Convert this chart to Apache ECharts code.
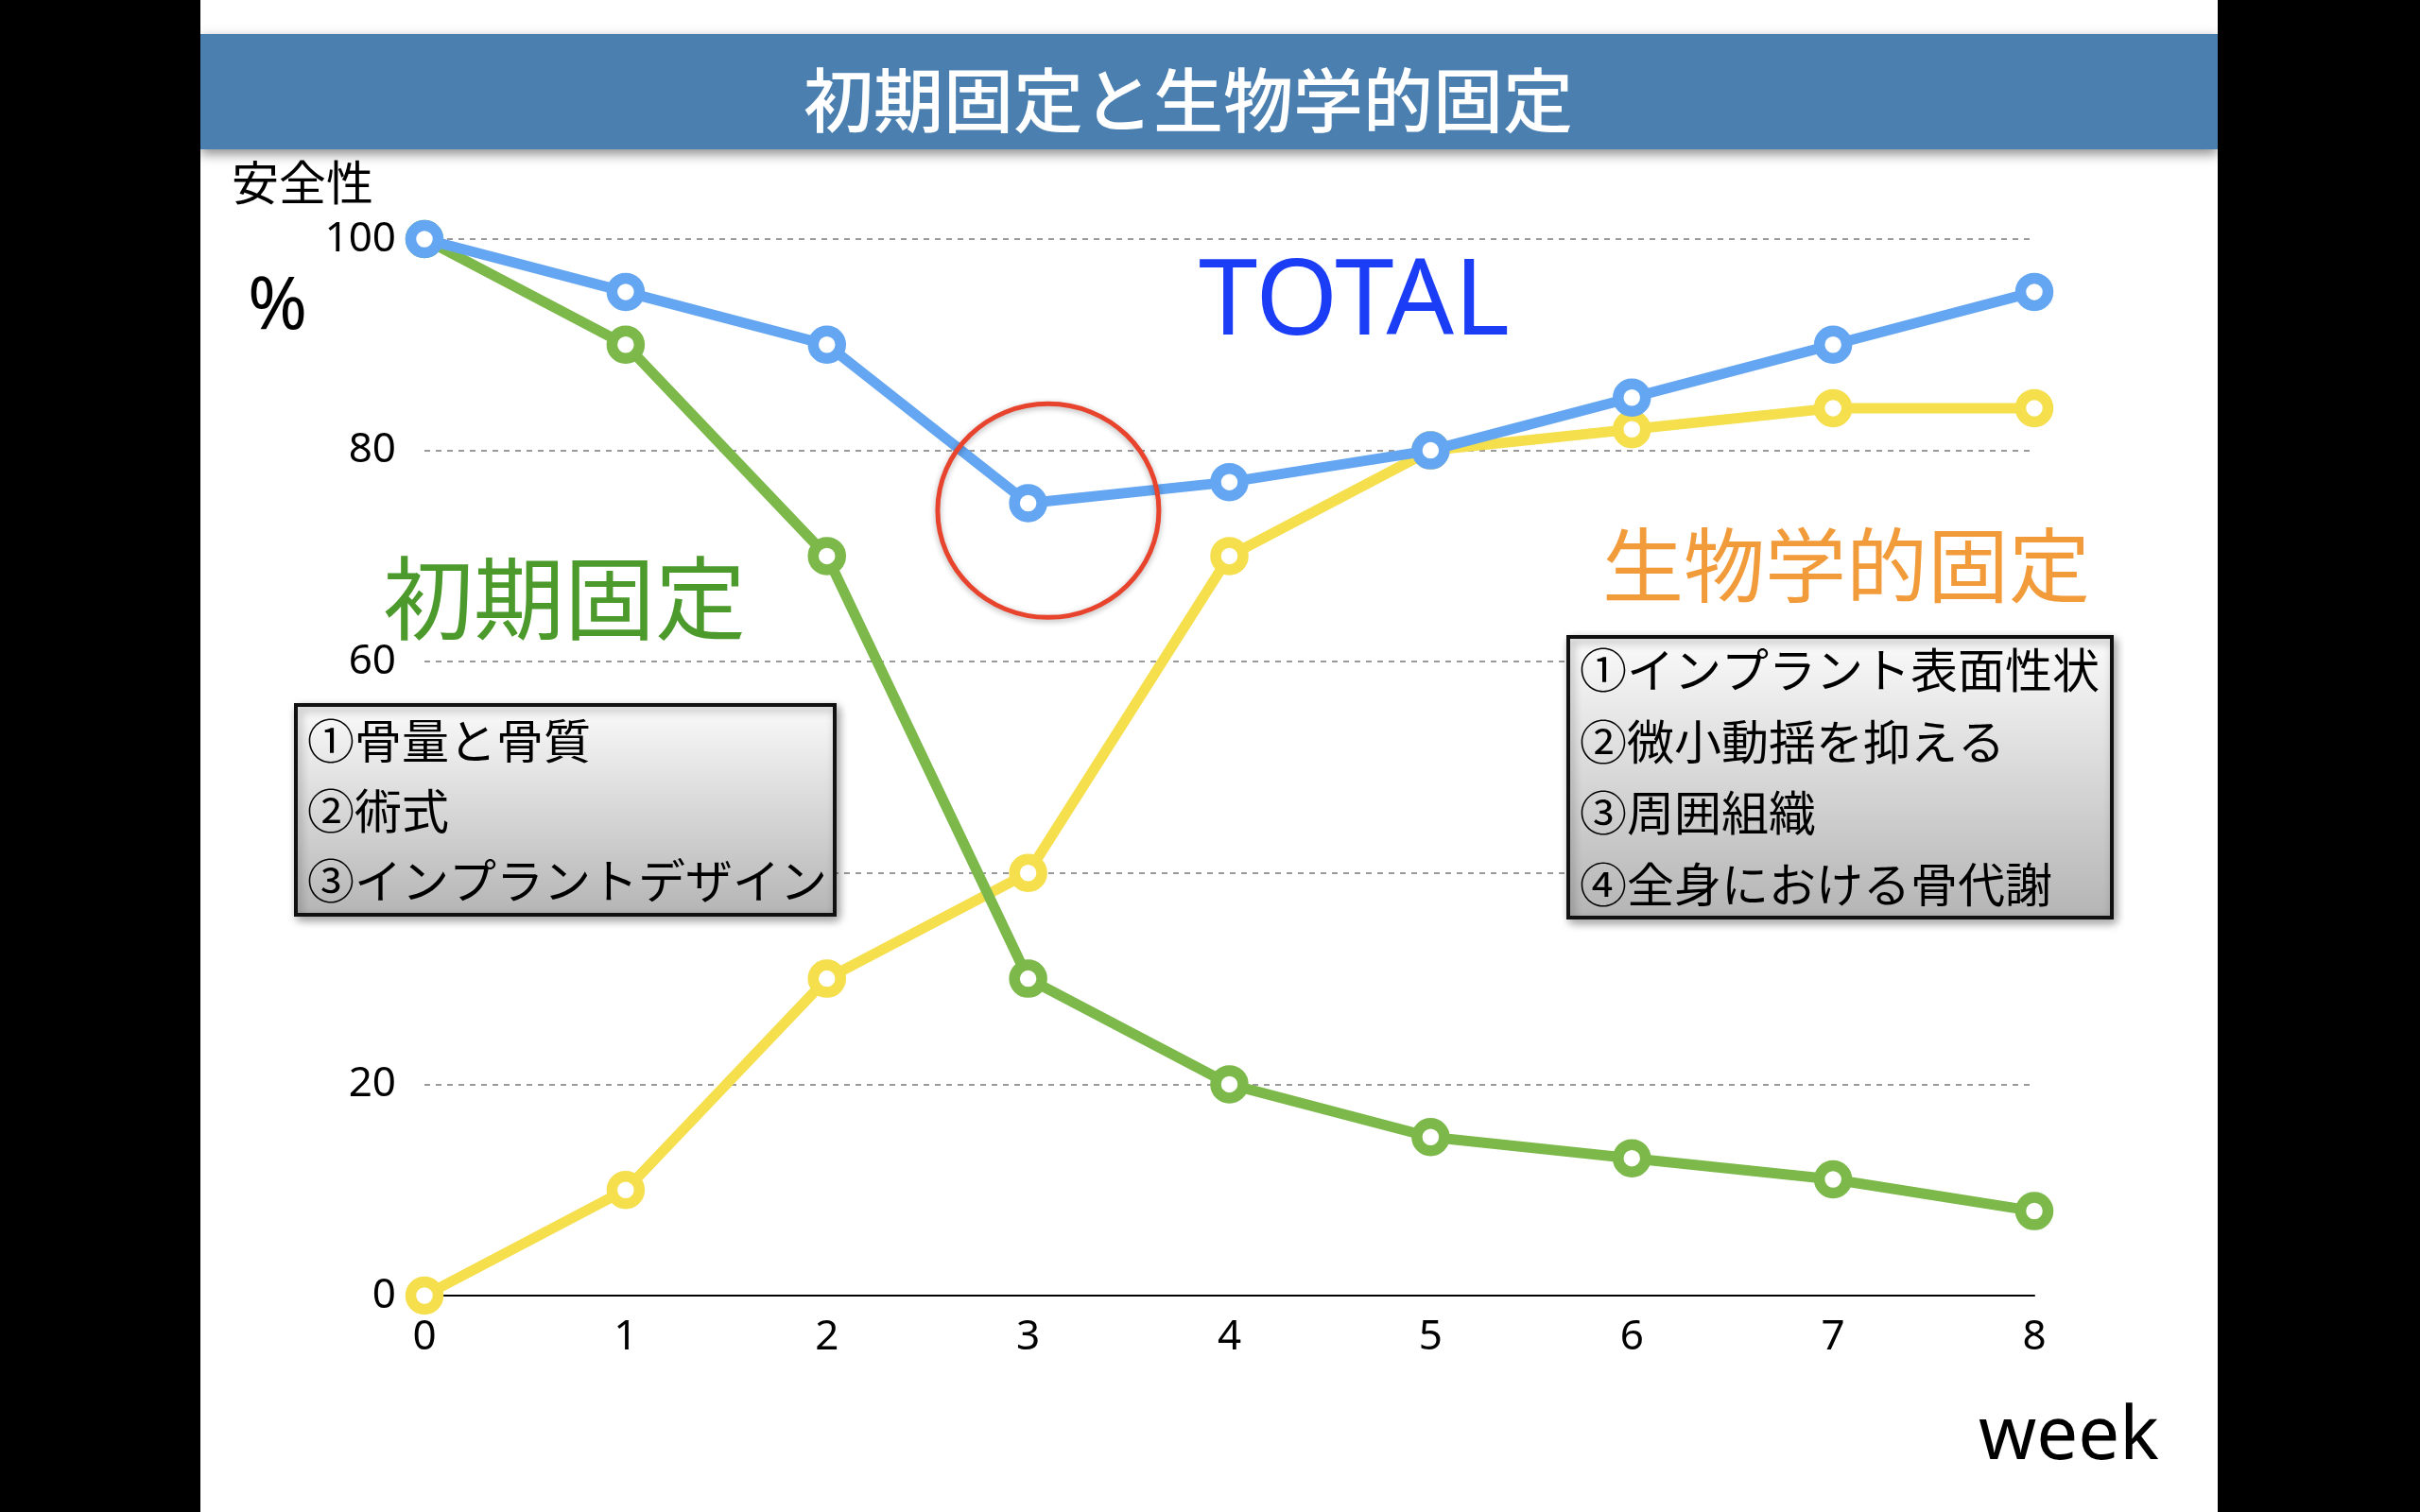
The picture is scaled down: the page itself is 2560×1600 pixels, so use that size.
<!DOCTYPE html>
<html>
<head>
<meta charset="utf-8">
<script src="https://cdn.jsdelivr.net/npm/echarts@6/dist/echarts.min.js"></script>
<style>
  html, body { margin: 0; padding: 0; }
  body { width: 2560px; height: 1600px; background: linear-gradient(to right, #000 0, #000 212px, #fff 212px, #fff 2346px, #000 2346px, #000 100%); }
  #chart { width: 2560px; height: 1600px; }
</style>
</head>
<body>
<div id="chart"></div>
<script>
// ---- data ----
const weeks = [0, 1, 2, 3, 4, 5, 6, 7, 8];
const totalValues = [100, 95, 90, 75, 77, 80, 85, 90, 95];
const primaryValues = [100, 90, 70, 30, 20, 15, 13, 11, 8];
const biologicalValues = [0, 10, 30, 40, 70, 80, 82, 84, 84];
const yTicks = [0, 20, 40, 60, 80, 100];

const titleText = '初期固定と生物学的固定';
const primaryFactors = ['①骨量と骨質', '②術式', '③インプラントデザイン'];
const biologicalFactors = ['①インプラント表面性状', '②微小動揺を抑える', '③周囲組織', '④全身における骨代謝'];

const CJK = '"Noto Sans CJK JP", "Noto Sans", sans-serif';
const LATIN = '"Noto Sans", "DejaVu Sans", sans-serif';

const chart = echarts.init(document.getElementById('chart'), null, { renderer: 'canvas' });

function lineSeries(name, values, color, z) {
  return {
    name: name,
    type: 'line',
    data: weeks.map((w, i) => [w, values[i]]),
    z: z,
    symbol: 'circle',
    symbolSize: 29,
    showAllSymbol: true,
    lineStyle: { color: color, width: 11 },
    itemStyle: { color: '#ffffff', borderColor: color, borderWidth: 11.5 },
    emphasis: { disabled: true },
    animation: false
  };
}

function factorBox(x, y, w, h, lines, lineStart, lineGap) {
  const children = [{
    type: 'rect', z: 100,
    shape: { x: 0, y: 0, width: w, height: h },
    style: {
      fill: new echarts.graphic.LinearGradient(0, 0, 0, 1, [
        { offset: 0, color: '#fbfbfb' },
        { offset: 1, color: '#b4b4b4' }
      ]),
      stroke: '#111', lineWidth: 4,
      shadowBlur: 10, shadowOffsetX: 3, shadowOffsetY: 4, shadowColor: 'rgba(0,0,0,0.35)'
    }
  }];
  lines.forEach((t, i) => {
    children.push({
      type: 'text', z: 101,
      x: 12, y: lineStart + i * lineGap,
      style: { text: t, fill: '#000', font: '50px ' + CJK, textVerticalAlign: 'middle' }
    });
  });
  return { type: 'group', x: x, y: y, z: 100, zlevel: 1, children: children };
}

const option = {
  animation: false,
  backgroundColor: 'transparent',
  grid: { left: 449, right: 408, top: 253, bottom: 229, containLabel: false },
  xAxis: {
    type: 'value',
    min: 0, max: 8, interval: 1,
    axisLine: { show: true, onZero: false, lineStyle: { color: '#000', width: 2 } },
    axisTick: { show: false },
    axisLabel: { color: '#000', fontSize: 44, fontFamily: LATIN, margin: 22 },
    splitLine: { show: false }
  },
  yAxis: {
    type: 'value',
    min: 0, max: 100, interval: 20,
    axisLine: { show: false },
    axisTick: { show: false },
    axisLabel: {
      color: '#000', fontSize: 44, fontFamily: LATIN, margin: 30,
      formatter: v => (yTicks.indexOf(v) >= 0 ? String(v) : '')
    },
    splitLine: { show: true, lineStyle: { color: '#999', width: 2, type: [6, 6] } }
  },
  series: [
    lineSeries('生物学的固定', biologicalValues, '#f5df4d', 3),
    lineSeries('初期固定', primaryValues, '#7cb94a', 4),
    lineSeries('TOTAL', totalValues, '#64a6f1', 5)
  ],
  graphic: [
    // title banner
    {
      type: 'rect', z: 50,
      shape: { x: 212, y: 36, width: 2134, height: 122 },
      style: { fill: '#4a7fb0', shadowBlur: 12, shadowOffsetY: 5, shadowColor: 'rgba(0,0,0,0.45)' }
    },
    {
      type: 'text', z: 51, x: 1257, y: 106,
      style: { text: titleText, fill: '#fff', font: '500 74px ' + CJK, textAlign: 'center', textVerticalAlign: 'middle' }
    },
    // axis captions
    {
      type: 'text', z: 60, x: 245, y: 193,
      style: { text: '安全性', fill: '#000', font: '50px ' + CJK, textVerticalAlign: 'middle' }
    },
    {
      type: 'text', z: 60, x: 262, y: 326,
      style: { text: '%', fill: '#000', font: '76px ' + LATIN, textVerticalAlign: 'middle' }
    },
    {
      type: 'text', z: 60, x: 2093, y: 1522,
      style: { text: 'week', fill: '#000', font: '78px ' + LATIN, textVerticalAlign: 'middle' }
    },
    // series captions
    {
      type: 'text', z: 60, x: 1268, y: 322,
      style: { text: 'TOTAL', fill: '#1c3df6', font: '112px ' + LATIN, textVerticalAlign: 'middle' }
    },
    {
      type: 'text', z: 60, x: 405, y: 633,
      style: { text: '初期固定', fill: '#4b9a2b', font: '96px ' + CJK, textVerticalAlign: 'middle' }
    },
    {
      type: 'text', z: 60, x: 1695, y: 598,
      style: { text: '生物学的固定', fill: '#f29b3b', font: '86px ' + CJK, textVerticalAlign: 'middle' }
    },
    // factor boxes
    factorBox(313, 746, 570, 222, primaryFactors, 38, 74),
    factorBox(1659, 674, 575, 297, biologicalFactors, 35, 75.5)
  ]
};

chart.setOption(option);

// red highlight circle around the TOTAL dip, placed through the grid's own scale
const c = chart.convertToPixel({ gridIndex: 0 }, [3.1, 74.3]);
chart.setOption({
  graphic: [{
    id: 'dipCircle', type: 'ellipse', z: 70,
    shape: { cx: c[0], cy: c[1], rx: 117, ry: 113 },
    style: { fill: 'none', stroke: '#e8432c', lineWidth: 5, shadowBlur: 6, shadowOffsetY: 2, shadowColor: 'rgba(0,0,0,0.3)' }
  }]
});
</script>
</body>
</html>
